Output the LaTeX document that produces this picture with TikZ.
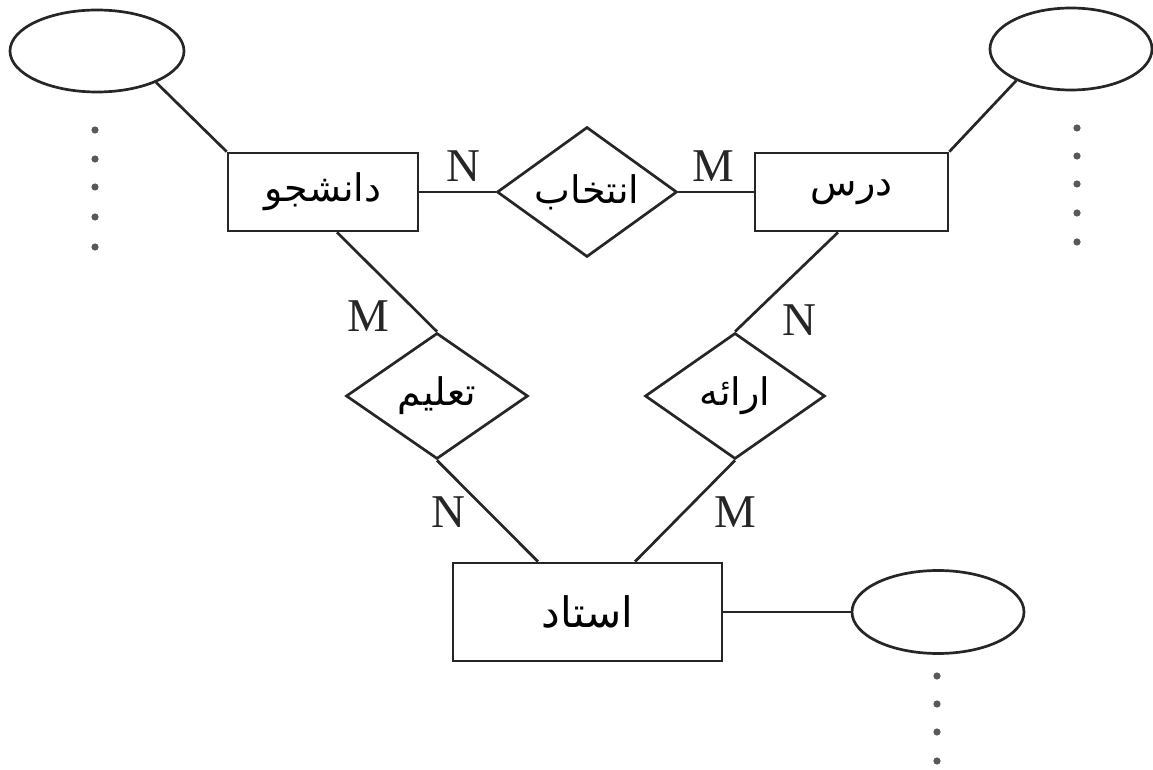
\documentclass[tikz,border=0pt]{standalone}
\usepackage{fontspec}
\setmainfont{Liberation Serif}
\newfontfamily\arabicfont[Script=Arabic]{DejaVu Sans}
\TeXXeTstate=1
\usetikzlibrary{shapes.geometric}

% Persian label helper: right-to-left run in the Arabic-script font
\newcommand{\fa}[2][19]{{\arabicfont\fontsize{#1}{#1}\selectfont\beginR #2\endR}}

\begin{document}
\begin{tikzpicture}[x=0.5pt,y=-0.5pt,
  ink/.style={draw=black!85, line width=1.35pt},
  entity/.style={ink, rectangle, inner sep=0pt},
  relation/.style={ink, diamond, inner sep=0pt},
  attrib/.style={ink, ellipse, inner sep=0pt},
  card/.style={inner sep=0pt, font=\fontsize{23.5}{28}\selectfont, text=black!85},
  dot/.style={fill=black!65}]

\useasboundingbox (0,0) rectangle (1153,770);

% entities
\node[entity, minimum width=95pt,   minimum height=39pt]   (stu) at (323,192)   {\fa{دانشجو}};
\node[entity, minimum width=96.5pt, minimum height=39pt]   (crs) at (851.5,192) {\fa{درس}};
\node[entity, minimum width=134.5pt,minimum height=49pt]   (prof) at (587.5,612) {\fa[21]{استاد}};

% relationships
\node[relation, minimum width=90pt, minimum height=65pt] (sel) at (587,192) {};
\node at (sel) {\fa{انتخاب}};
\node[relation, minimum width=91pt, minimum height=63pt] (tch) at (437,396) {};
\node at (tch) {\fa{تعلیم}};
\node[relation, minimum width=90pt, minimum height=63pt] (off) at (735,396) {};
\node at (off) {\fa{ارائه}};

% attributes
\node[attrib, minimum width=87pt, minimum height=41pt]   (a1) at (97,51)   {};
\node[attrib, minimum width=81pt, minimum height=41pt]   (a2) at (1071,49) {};
\node[attrib, minimum width=86pt, minimum height=41.5pt] (a3) at (938,612) {};

% connectors
\draw[ink] (stu.east) -- (sel.west);
\draw[ink] (sel.east) -- (crs.west);
\draw[ink] ([xshift=7pt]stu.south) -- (tch.north);
\draw[ink] (tch.south) -- ([xshift=-24.75pt]prof.north);
\draw[ink] ([xshift=-6.75pt]crs.south) -- (off.north);
\draw[ink] (off.south) -- ([xshift=23.75pt]prof.north);
\draw[ink] (a1.-28) -- (stu.north west);
\draw[ink] (a2.-150) -- (crs.north east);
\draw[ink] (prof.east) -- (a3.west);

% cardinalities
\node[card] (c1) at (463,166) {N};
\node[card] (c2) at (713,166) {M};
\node[card] (c3) at (368,316) {M};
\node[card] (c4) at (799,320) {N};
\node[card] (c5) at (448,512) {N};
\node[card] (c6) at (735,512) {M};

% further attributes (ellipsis dots)
\foreach \y in {130,159,187,217,247} \fill[dot] (95,\y) circle (1.8pt);
\foreach \y in {128,156,184,213,242} \fill[dot] (1077,\y) circle (1.8pt);
\foreach \y in {676,704,732,761} \fill[dot] (937,\y) circle (1.8pt);

\end{tikzpicture}
\end{document}
